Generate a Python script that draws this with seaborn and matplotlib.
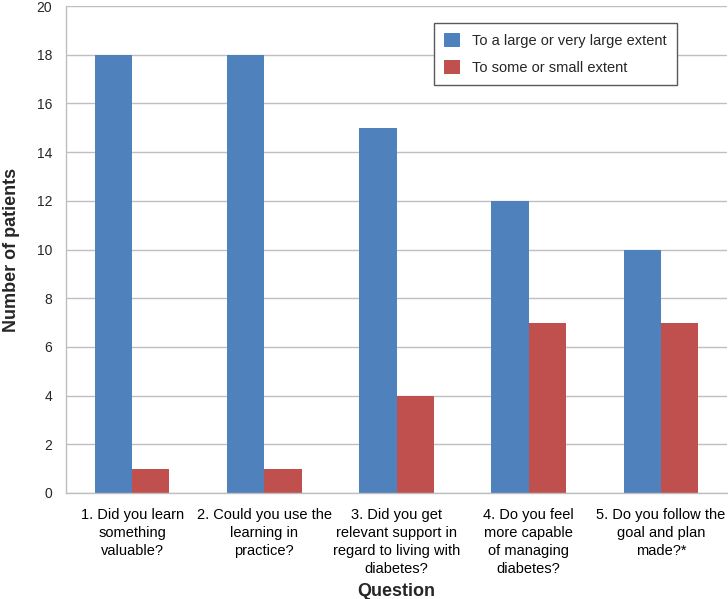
import numpy as np
import pandas as pd
import seaborn as sns
import matplotlib.pyplot as plt
from matplotlib.ticker import FixedLocator

# data
questions = [
    "1. Did you learn\nsomething\nvaluable?",
    "2. Could you use the\nlearning in\npractice?",
    "3. Did you get\nrelevant support in\nregard to living with\ndiabetes?",
    "4. Do you feel\nmore capable\nof managing\ndiabetes?",
    "5. Do you follow the\ngoal and plan\nmade?*",
]
series_names = ["To a large or very large extent", "To some or small extent"]
large_extent = [18, 18, 15, 12, 10]
small_extent = [1, 1, 4, 7, 7]
y_ticks = [0, 2, 4, 6, 8, 10, 12, 14, 16, 18, 20]

colors = ["#4F81BD", "#C0504D"]
grid_col = "#BFBFBF"

df = pd.DataFrame({
    "Question": questions * 2,
    "Series": [series_names[0]] * len(questions) + [series_names[1]] * len(questions),
    "Count": large_extent + small_extent,
})

sns.set_style("white")
plt.rcParams["font.family"] = ["Liberation Sans", "DejaVu Sans"]

fig = plt.figure(figsize=(7.28, 5.99), dpi=100)
ax = fig.add_axes([66 / 728, 1 - 493 / 599, 661 / 728, 487 / 599])

sns.barplot(data=df, x="Question", y="Count", hue="Series", order=questions,
            hue_order=series_names, palette=colors, saturation=1,
            width=0.565, edgecolor="none", linewidth=0, ax=ax)

ax.set_ylim(0, 20)
ax.set_xlim(-0.5, len(questions) - 0.5)
ax.set_yticks(y_ticks)
ax.set_axisbelow(True)
ax.yaxis.grid(True, color=grid_col, linewidth=1)
ax.xaxis.grid(False)

for s in ["top", "right"]:
    ax.spines[s].set_visible(False)
for s in ["left", "bottom"]:
    ax.spines[s].set_color(grid_col)
    ax.spines[s].set_linewidth(1)

# tick marks at category boundaries, labels at centres
ax.set_xticks(np.arange(len(questions)))
ax.set_xticklabels(questions, fontsize=10.5, linespacing=1.35, va="top")
ax.xaxis.set_minor_locator(FixedLocator(np.arange(-0.5, len(questions), 1.0)))
ax.tick_params(axis="x", which="major", length=0, pad=11, colors="black")
ax.tick_params(axis="x", which="minor", length=5, color=grid_col, width=1)
ax.tick_params(axis="y", length=4, color=grid_col, width=1, labelsize=10, pad=6)

ax.set_xlabel("Question", fontsize=13, fontweight="bold")
ax.xaxis.set_label_coords(0.5, (493 - 583) / 487)
ax.set_ylabel("Number of patients", fontsize=13, fontweight="bold", labelpad=12)

leg = ax.legend(loc="upper right", bbox_to_anchor=(0.924, 0.965), borderaxespad=0,
                fontsize=10.5, frameon=True, fancybox=False, framealpha=1,
                handlelength=1.1, handleheight=1.1, labelspacing=0.8,
                borderpad=0.7, handletextpad=0.8, title=None)
leg.get_frame().set_edgecolor("#595959")
leg.get_frame().set_linewidth(1)

fig.savefig("out.png", dpi=100)
